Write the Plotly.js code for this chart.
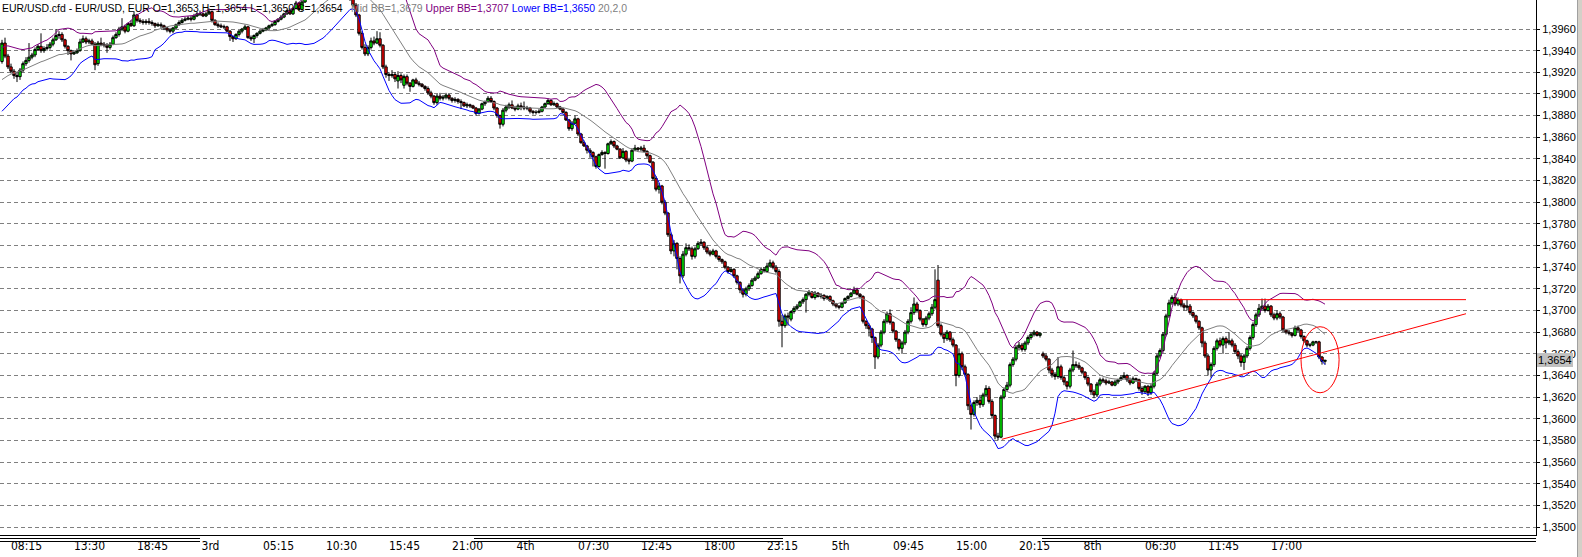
<!DOCTYPE html>
<html>
<head>
<meta charset="utf-8">
<script src="https://cdn.plot.ly/plotly-3.0.1.min.js"></script>
<style>html,body{margin:0;padding:0;background:#fff;overflow:hidden}</style>
</head>
<body>
<div id="chart" style="width:1582px;height:557px"></div>
<script>
// ---- 15-minute EUR/USD bars (bar 0 = 07:15 on the 2nd) ----
const open = [
1.3930,1.3947,1.3935,1.3925,1.3921,1.3917,1.3916,1.3922,1.3928,1.3931,
1.3934,1.3936,1.3941,1.3944,1.3940,1.3942,1.3943,1.3946,1.3950,1.3954,
1.3955,1.3950,1.3944,1.3940,1.3937,1.3938,1.3940,1.3948,1.3951,1.3948,
1.3949,1.3946,1.3928,1.3947,1.3946,1.3945,1.3943,1.3946,1.3952,1.3955,
1.3960,1.3962,1.3958,1.3965,1.3963,1.3973,1.3968,1.3967,1.3966,1.3967,
1.3966,1.3965,1.3963,1.3964,1.3963,1.3961,1.3959,1.3958,1.3961,1.3964,
1.3966,1.3968,1.3969,1.3970,1.3969,1.3972,1.3974,1.3974,1.3972,1.3974,
1.3976,1.3968,1.3964,1.3963,1.3962,1.3962,1.3958,1.3953,1.3951,1.3955,
1.3958,1.3960,1.3962,1.3952,1.3951,1.3954,1.3956,1.3958,1.3959,1.3961,
1.3963,1.3964,1.3967,1.3969,1.3971,1.3974,1.3977,1.3974,1.3979,1.3984,
1.3978,1.3985,1.3990,1.3998,1.4004,1.4006,1.4003,1.4007,1.4009,1.4006,
1.4008,1.4005,1.4007,1.4008,1.4003,1.4000,1.3996,1.3988,1.3982,1.3973,
1.3956,1.3943,1.3937,1.3943,1.3949,1.3947,1.3951,1.3945,1.3925,1.3918,
1.3917,1.3918,1.3912,1.3917,1.3908,1.3916,1.3910,1.3907,1.3913,1.3910,
1.3909,1.3907,1.3905,1.3901,1.3898,1.3892,1.3898,1.3896,1.3897,1.3899,
1.3896,1.3894,1.3895,1.3893,1.3892,1.3889,1.3890,1.3889,1.3887,1.3882,
1.3886,1.3891,1.3893,1.3896,1.3893,1.3887,1.3880,1.3872,1.3885,1.3888,
1.3890,1.3887,1.3886,1.3889,1.3888,1.3887,1.3887,1.3884,1.3883,1.3883,
1.3884,1.3888,1.3891,1.3894,1.3890,1.3891,1.3888,1.3886,1.3883,1.3876,
1.3868,1.3873,1.3877,1.3863,1.3855,1.3852,1.3848,1.3846,1.3842,1.3833,
1.3844,1.3846,1.3845,1.3854,1.3856,1.3852,1.3849,1.3841,1.3847,1.3839,
1.3838,1.3848,1.3850,1.3849,1.3850,1.3847,1.3843,1.3837,1.3822,1.3812,
1.3815,1.3800,1.3790,1.3770,1.3755,1.3762,1.3748,1.3732,1.3752,1.3758,
1.3757,1.3750,1.3757,1.3762,1.3763,1.3758,1.3754,1.3752,1.3755,1.3750,
1.3747,1.3745,1.3740,1.3736,1.3738,1.3732,1.3726,1.3719,1.3715,1.3720,
1.3723,1.3728,1.3730,1.3734,1.3738,1.3736,1.3741,1.3744,1.3740,1.3736,
1.3690,1.3686,1.3695,1.3692,1.3699,1.3702,1.3704,1.3708,1.3710,1.3715,
1.3717,1.3712,1.3716,1.3713,1.3714,1.3711,1.3713,1.3709,1.3706,1.3704,
1.3703,1.3707,1.3711,1.3713,1.3716,1.3719,1.3715,1.3713,1.3690,1.3686,
1.3683,1.3675,1.3657,1.3668,1.3680,1.3690,1.3697,1.3689,1.3681,1.3673,
1.3665,1.3670,1.3680,1.3690,1.3698,1.3706,1.3700,1.3692,1.3687,1.3693,
1.3697,1.3703,1.3728,1.3686,1.3678,1.3674,1.3680,1.3673,1.3668,1.3640,
1.3660,1.3648,1.3641,1.3612,1.3604,1.3615,1.3617,1.3613,1.3622,1.3628,
1.3616,1.3603,1.3584,1.3583,1.3620,1.3627,1.3631,1.3650,1.3655,1.3666,
1.3668,1.3664,1.3670,1.3675,1.3678,1.3680,1.3677,1.3660,1.3658,1.3655,
1.3645,1.3641,1.3639,1.3648,1.3638,1.3634,1.3630,1.3645,1.3650,1.3649,
1.3647,1.3643,1.3638,1.3632,1.3625,1.3622,1.3632,1.3636,1.3635,1.3633,
1.3634,1.3631,1.3634,1.3636,1.3638,1.3640,1.3636,1.3633,1.3637,1.3636,
1.3628,1.3625,1.3630,1.3624,1.3630,1.3642,1.3658,1.3663,1.3678,1.3695,
1.3707,1.3712,1.3706,1.3710,1.3705,1.3703,1.3704,1.3698,1.3695,1.3690,
1.3684,1.3670,1.3658,1.3645,1.3650,1.3665,1.3672,1.3668,1.3674,1.3670,
1.3672,1.3668,1.3662,1.3658,1.3652,1.3658,1.3665,1.3675,1.3687,1.3696,
1.3702,1.3704,1.3700,1.3704,1.3696,1.3693,1.3697,1.3694,1.3682,1.3680,
1.3679,1.3677,1.3684,1.3682,1.3676,1.3672,1.3668,1.3668,1.3671,1.3671,
1.3657,1.3653];
const high = [
1.3950,1.3952,1.3937,1.3928,1.3923,1.3920,1.3924,1.3930,1.3934,1.3947,
1.3938,1.3943,1.3946,1.3956,1.3944,1.3946,1.3948,1.3952,1.3960,1.3958,
1.3957,1.3951,1.3945,1.3941,1.3940,1.3942,1.3951,1.3954,1.3953,1.3951,
1.3951,1.3948,1.3949,1.3952,1.3948,1.3947,1.3948,1.3954,1.3957,1.3962,
1.3970,1.3964,1.3966,1.3968,1.3976,1.3974,1.3970,1.3969,1.3969,1.3970,
1.3968,1.3966,1.3966,1.3966,1.3964,1.3962,1.3961,1.3962,1.3965,1.3968,
1.3970,1.3971,1.3972,1.3972,1.3974,1.3976,1.3977,1.3975,1.3976,1.3979,
1.3977,1.3969,1.3966,1.3965,1.3964,1.3963,1.3959,1.3954,1.3956,1.3959,
1.3961,1.3964,1.3963,1.3954,1.3955,1.3957,1.3959,1.3961,1.3962,1.3964,
1.3966,1.3968,1.3970,1.3973,1.3975,1.3978,1.3979,1.3980,1.3986,1.3985,
1.3988,1.3992,1.4000,1.4007,1.4009,1.4010,1.4008,1.4012,1.4013,1.4010,
1.4011,1.4009,1.4011,1.4010,1.4006,1.4003,1.3998,1.3990,1.3984,1.3974,
1.3958,1.3946,1.3945,1.3952,1.3953,1.3958,1.3957,1.3946,1.3927,1.3920,
1.3922,1.3920,1.3921,1.3919,1.3918,1.3918,1.3911,1.3914,1.3915,1.3912,
1.3910,1.3908,1.3907,1.3903,1.3899,1.3900,1.3901,1.3899,1.3901,1.3900,
1.3897,1.3897,1.3896,1.3895,1.3893,1.3892,1.3891,1.3890,1.3888,1.3887,
1.3892,1.3894,1.3898,1.3898,1.3894,1.3888,1.3881,1.3887,1.3890,1.3892,
1.3894,1.3889,1.3891,1.3892,1.3893,1.3889,1.3888,1.3885,1.3885,1.3886,
1.3889,1.3892,1.3896,1.3895,1.3893,1.3892,1.3889,1.3887,1.3884,1.3877,
1.3875,1.3880,1.3878,1.3864,1.3857,1.3853,1.3850,1.3847,1.3843,1.3845,
1.3848,1.3847,1.3855,1.3858,1.3857,1.3853,1.3850,1.3850,1.3848,1.3841,
1.3850,1.3853,1.3851,1.3852,1.3853,1.3848,1.3844,1.3838,1.3824,1.3818,
1.3816,1.3802,1.3791,1.3772,1.3765,1.3763,1.3750,1.3755,1.3762,1.3761,
1.3759,1.3759,1.3764,1.3766,1.3764,1.3760,1.3756,1.3757,1.3756,1.3751,
1.3748,1.3746,1.3741,1.3740,1.3739,1.3733,1.3727,1.3720,1.3722,1.3725,
1.3730,1.3732,1.3736,1.3740,1.3740,1.3744,1.3747,1.3746,1.3742,1.3738,
1.3696,1.3697,1.3698,1.3700,1.3704,1.3706,1.3709,1.3712,1.3716,1.3719,
1.3718,1.3718,1.3717,1.3716,1.3715,1.3714,1.3714,1.3710,1.3707,1.3705,
1.3708,1.3712,1.3714,1.3717,1.3722,1.3721,1.3716,1.3714,1.3691,1.3688,
1.3684,1.3676,1.3670,1.3682,1.3692,1.3699,1.3701,1.3690,1.3682,1.3674,
1.3672,1.3682,1.3692,1.3703,1.3712,1.3708,1.3701,1.3693,1.3695,1.3699,
1.3706,1.3738,1.3742,1.3688,1.3680,1.3682,1.3681,1.3675,1.3669,1.3665,
1.3662,1.3650,1.3642,1.3614,1.3617,1.3620,1.3622,1.3624,1.3631,1.3630,
1.3618,1.3604,1.3587,1.3622,1.3629,1.3634,1.3652,1.3657,1.3668,1.3671,
1.3670,1.3672,1.3677,1.3680,1.3682,1.3681,1.3680,1.3662,1.3660,1.3656,
1.3647,1.3643,1.3657,1.3650,1.3640,1.3635,1.3647,1.3663,1.3653,1.3652,
1.3648,1.3644,1.3639,1.3633,1.3627,1.3634,1.3638,1.3638,1.3637,1.3636,
1.3635,1.3636,1.3637,1.3640,1.3643,1.3641,1.3638,1.3639,1.3638,1.3637,
1.3630,1.3631,1.3631,1.3632,1.3644,1.3660,1.3665,1.3680,1.3697,1.3710,
1.3714,1.3716,1.3712,1.3711,1.3707,1.3710,1.3706,1.3699,1.3696,1.3691,
1.3685,1.3672,1.3660,1.3652,1.3667,1.3674,1.3675,1.3676,1.3676,1.3680,
1.3674,1.3670,1.3664,1.3660,1.3660,1.3667,1.3677,1.3689,1.3698,1.3706,
1.3711,1.3711,1.3706,1.3705,1.3698,1.3700,1.3699,1.3695,1.3683,1.3682,
1.3680,1.3686,1.3686,1.3683,1.3677,1.3673,1.3670,1.3672,1.3672,1.3672,
1.3658,1.3654];
const low = [
1.3928,1.3933,1.3923,1.3919,1.3914,1.3911,1.3913,1.3920,1.3926,1.3929,
1.3932,1.3934,1.3940,1.3938,1.3938,1.3940,1.3941,1.3944,1.3949,1.3951,
1.3948,1.3942,1.3936,1.3931,1.3936,1.3937,1.3939,1.3947,1.3946,1.3946,
1.3945,1.3922,1.3926,1.3944,1.3943,1.3938,1.3941,1.3945,1.3951,1.3953,
1.3958,1.3956,1.3957,1.3962,1.3962,1.3966,1.3965,1.3964,1.3964,1.3964,
1.3963,1.3961,1.3962,1.3961,1.3959,1.3957,1.3956,1.3956,1.3960,1.3963,
1.3965,1.3967,1.3968,1.3967,1.3968,1.3971,1.3972,1.3971,1.3971,1.3973,
1.3966,1.3963,1.3961,1.3961,1.3960,1.3957,1.3949,1.3948,1.3950,1.3953,
1.3956,1.3959,1.3951,1.3949,1.3947,1.3952,1.3955,1.3957,1.3958,1.3960,
1.3962,1.3963,1.3966,1.3968,1.3970,1.3973,1.3973,1.3973,1.3978,1.3977,
1.3977,1.3984,1.3988,1.3996,1.4000,1.4002,1.4000,1.4005,1.4004,1.4003,
1.4003,1.4002,1.4004,1.4001,1.3998,1.3994,1.3986,1.3980,1.3971,1.3954,
1.3941,1.3935,1.3935,1.3941,1.3945,1.3946,1.3943,1.3923,1.3915,1.3912,
1.3915,1.3911,1.3905,1.3910,1.3905,1.3908,1.3902,1.3906,1.3909,1.3907,
1.3906,1.3903,1.3899,1.3896,1.3890,1.3890,1.3894,1.3894,1.3895,1.3894,
1.3892,1.3892,1.3891,1.3886,1.3888,1.3887,1.3887,1.3886,1.3880,1.3881,
1.3885,1.3889,1.3892,1.3892,1.3885,1.3878,1.3868,1.3870,1.3883,1.3886,
1.3886,1.3884,1.3885,1.3885,1.3885,1.3885,1.3882,1.3881,1.3881,1.3882,
1.3883,1.3887,1.3890,1.3889,1.3889,1.3887,1.3885,1.3882,1.3875,1.3866,
1.3866,1.3872,1.3861,1.3854,1.3851,1.3845,1.3841,1.3833,1.3831,1.3832,
1.3843,1.3831,1.3844,1.3853,1.3850,1.3848,1.3840,1.3840,1.3837,1.3835,
1.3837,1.3847,1.3847,1.3847,1.3846,1.3841,1.3836,1.3820,1.3810,1.3808,
1.3798,1.3788,1.3768,1.3752,1.3750,1.3738,1.3725,1.3730,1.3750,1.3755,
1.3747,1.3748,1.3756,1.3760,1.3756,1.3752,1.3750,1.3751,1.3748,1.3745,
1.3743,1.3738,1.3734,1.3735,1.3730,1.3724,1.3716,1.3712,1.3713,1.3718,
1.3722,1.3727,1.3729,1.3733,1.3735,1.3735,1.3740,1.3738,1.3734,1.3685,
1.3666,1.3684,1.3686,1.3690,1.3697,1.3700,1.3703,1.3706,1.3698,1.3713,
1.3711,1.3710,1.3712,1.3711,1.3709,1.3710,1.3708,1.3704,1.3702,1.3701,
1.3702,1.3706,1.3710,1.3712,1.3715,1.3714,1.3711,1.3688,1.3683,1.3676,
1.3670,1.3646,1.3655,1.3666,1.3678,1.3688,1.3687,1.3679,1.3671,1.3663,
1.3660,1.3668,1.3678,1.3688,1.3696,1.3698,1.3690,1.3685,1.3685,1.3691,
1.3695,1.3701,1.3684,1.3676,1.3670,1.3672,1.3671,1.3666,1.3630,1.3638,
1.3645,1.3639,1.3608,1.3590,1.3602,1.3612,1.3610,1.3611,1.3620,1.3614,
1.3600,1.3581,1.3580,1.3582,1.3618,1.3625,1.3629,1.3648,1.3653,1.3663,
1.3662,1.3662,1.3668,1.3673,1.3676,1.3676,1.3675,1.3656,1.3653,1.3642,
1.3638,1.3636,1.3637,1.3636,1.3631,1.3627,1.3628,1.3643,1.3647,1.3645,
1.3641,1.3636,1.3630,1.3622,1.3619,1.3620,1.3630,1.3633,1.3631,1.3632,
1.3630,1.3630,1.3632,1.3635,1.3637,1.3634,1.3631,1.3632,1.3634,1.3626,
1.3622,1.3623,1.3621,1.3622,1.3628,1.3640,1.3656,1.3661,1.3676,1.3693,
1.3705,1.3704,1.3704,1.3703,1.3700,1.3700,1.3696,1.3693,1.3688,1.3682,
1.3666,1.3656,1.3640,1.3638,1.3648,1.3663,1.3666,1.3660,1.3665,1.3668,
1.3666,1.3660,1.3655,1.3648,1.3645,1.3656,1.3663,1.3673,1.3685,1.3694,
1.3700,1.3698,1.3699,1.3694,1.3691,1.3691,1.3692,1.3680,1.3678,1.3677,
1.3675,1.3676,1.3680,1.3674,1.3670,1.3666,1.3666,1.3667,1.3669,1.3655,
1.3650,1.3650];
const close = [
1.3947,1.3935,1.3925,1.3921,1.3917,1.3916,1.3922,1.3928,1.3931,1.3934,
1.3936,1.3941,1.3944,1.3940,1.3942,1.3943,1.3946,1.3950,1.3954,1.3955,
1.3950,1.3944,1.3940,1.3937,1.3938,1.3940,1.3948,1.3951,1.3948,1.3949,
1.3946,1.3927,1.3947,1.3946,1.3945,1.3943,1.3946,1.3952,1.3955,1.3960,
1.3962,1.3958,1.3965,1.3963,1.3973,1.3968,1.3967,1.3966,1.3967,1.3966,
1.3965,1.3963,1.3964,1.3963,1.3961,1.3959,1.3958,1.3961,1.3964,1.3966,
1.3968,1.3969,1.3970,1.3969,1.3972,1.3974,1.3974,1.3972,1.3974,1.3976,
1.3968,1.3964,1.3963,1.3962,1.3962,1.3958,1.3953,1.3951,1.3955,1.3958,
1.3960,1.3962,1.3952,1.3951,1.3954,1.3956,1.3958,1.3959,1.3961,1.3963,
1.3964,1.3967,1.3969,1.3971,1.3974,1.3977,1.3974,1.3979,1.3984,1.3978,
1.3985,1.3990,1.3998,1.4004,1.4006,1.4003,1.4007,1.4009,1.4006,1.4008,
1.4005,1.4007,1.4008,1.4003,1.4000,1.3996,1.3988,1.3982,1.3973,1.3956,
1.3943,1.3937,1.3943,1.3949,1.3947,1.3951,1.3945,1.3925,1.3918,1.3917,
1.3918,1.3914,1.3917,1.3913,1.3916,1.3910,1.3907,1.3913,1.3910,1.3909,
1.3907,1.3905,1.3901,1.3898,1.3892,1.3898,1.3896,1.3897,1.3899,1.3896,
1.3894,1.3895,1.3893,1.3892,1.3889,1.3890,1.3889,1.3887,1.3882,1.3886,
1.3891,1.3893,1.3896,1.3893,1.3887,1.3880,1.3872,1.3885,1.3888,1.3890,
1.3887,1.3886,1.3889,1.3888,1.3887,1.3887,1.3884,1.3883,1.3883,1.3884,
1.3888,1.3891,1.3894,1.3890,1.3891,1.3888,1.3886,1.3883,1.3876,1.3868,
1.3873,1.3877,1.3863,1.3855,1.3852,1.3848,1.3846,1.3842,1.3833,1.3844,
1.3846,1.3845,1.3854,1.3856,1.3852,1.3849,1.3841,1.3847,1.3839,1.3838,
1.3848,1.3850,1.3849,1.3850,1.3847,1.3843,1.3837,1.3822,1.3812,1.3815,
1.3800,1.3790,1.3770,1.3755,1.3762,1.3748,1.3732,1.3752,1.3758,1.3757,
1.3750,1.3757,1.3762,1.3763,1.3758,1.3754,1.3752,1.3755,1.3750,1.3747,
1.3745,1.3740,1.3736,1.3738,1.3732,1.3726,1.3719,1.3715,1.3720,1.3723,
1.3728,1.3730,1.3734,1.3738,1.3736,1.3741,1.3744,1.3740,1.3736,1.3690,
1.3686,1.3695,1.3694,1.3699,1.3702,1.3704,1.3708,1.3710,1.3715,1.3717,
1.3712,1.3716,1.3713,1.3714,1.3711,1.3713,1.3709,1.3706,1.3704,1.3703,
1.3707,1.3711,1.3713,1.3716,1.3719,1.3715,1.3713,1.3690,1.3686,1.3683,
1.3675,1.3657,1.3668,1.3680,1.3690,1.3697,1.3689,1.3681,1.3673,1.3665,
1.3670,1.3680,1.3690,1.3698,1.3706,1.3700,1.3692,1.3687,1.3693,1.3697,
1.3703,1.3710,1.3686,1.3678,1.3674,1.3680,1.3673,1.3668,1.3640,1.3660,
1.3648,1.3641,1.3612,1.3604,1.3615,1.3617,1.3613,1.3622,1.3628,1.3616,
1.3603,1.3584,1.3583,1.3620,1.3627,1.3631,1.3650,1.3655,1.3666,1.3668,
1.3664,1.3670,1.3675,1.3678,1.3680,1.3677,1.3679,1.3658,1.3655,1.3645,
1.3641,1.3639,1.3648,1.3638,1.3634,1.3630,1.3645,1.3650,1.3649,1.3647,
1.3643,1.3638,1.3632,1.3625,1.3622,1.3632,1.3636,1.3635,1.3633,1.3634,
1.3631,1.3634,1.3636,1.3638,1.3640,1.3636,1.3633,1.3637,1.3636,1.3628,
1.3625,1.3630,1.3624,1.3630,1.3642,1.3658,1.3663,1.3678,1.3695,1.3707,
1.3712,1.3706,1.3710,1.3705,1.3703,1.3704,1.3698,1.3695,1.3690,1.3684,
1.3670,1.3658,1.3645,1.3650,1.3665,1.3672,1.3668,1.3674,1.3670,1.3672,
1.3668,1.3662,1.3658,1.3652,1.3658,1.3665,1.3675,1.3687,1.3696,1.3702,
1.3704,1.3700,1.3704,1.3696,1.3693,1.3697,1.3694,1.3682,1.3680,1.3679,
1.3677,1.3684,1.3682,1.3676,1.3672,1.3668,1.3668,1.3671,1.3671,1.3657,
1.3653,1.3654];
// closes of the 19 bars before the visible window (needed by the 20-bar bands)
const historyClose = [1.3890,1.3896,1.3893,1.3899,1.3904,1.3898,1.3903,1.3909,1.3907,1.3913,
                      1.3918,1.3911,1.3920,1.3924,1.3918,1.3925,1.3931,1.3927,1.3932];

// time-axis labels and the bar each one starts on
const tickLabels = ['08:15','13:30','18:45','3rd','05:15','10:30','15:45','21:00','4th','07:30',
                    '12:45','18:00','23:15','5th','09:45','15:00','20:15','8th','06:30','11:45','17:00'];
const tickBars = [4,25,46,67,88,109,130,151,172,193,214,235,256,277,298,319,340,361,382,403,424];
const priceTicks = [];
for (let p = 13500; p <= 13960; p += 20) priceTicks.push(p / 10000);

// header texts
const symbolText = 'EUR/USD.cfd - EUR/USD, EUR';
const bbHeader = {mid: '1,3679', upper: '1,3707', lower: '1,3650', params: '20,2,0'};

// hand-drawn studies (bar index, price)
const supportLineBars = [333.3, 488];
const supportLinePrices = [1.3581, 1.3697];
const resistanceLineBars = [392, 488];
const resistanceLinePrice = 1.3710;
const markerBars = [433, 445.7];
const markerPrices = [1.3624, 1.3685];

// day shading bars under the axis (pixel spans)
const dayBarSpans = [[0, 200], [474, 783], [1042, 1536]];

// ---------- build ----------
const bars = close.map((_, i) => i);
function bollinger(series, n, k) {
  const mid = [], up = [], lo = [];
  for (let i = 0; i < series.length; i++) {
    if (i < n - 1) { mid.push(null); up.push(null); lo.push(null); continue; }
    let s = 0;
    for (let j = i - n + 1; j <= i; j++) s += series[j];
    const m = s / n;
    let v = 0;
    for (let j = i - n + 1; j <= i; j++) v += (series[j] - m) * (series[j] - m);
    const sd = Math.sqrt(v / n);
    mid.push(m); up.push(m + k * sd); lo.push(m - k * sd);
  }
  return {mid, up, lo};
}
const bbAll = bollinger(historyClose.concat(close), 20, 2);
const off = historyClose.length;
const bbMid = bbAll.mid.slice(off), bbUp = bbAll.up.slice(off), bbLo = bbAll.lo.slice(off);

const PW = 1536, PH = 535;           // plot area in px
const fmt = v => v.toFixed(4).replace('.', ',');
const last = close.length - 1;

const traces = [
  {type: 'candlestick', x: bars, open: open, high: high, low: low, close: close,
   increasing: {line: {color: '#000000', width: 1}, fillcolor: '#00ff00'},
   decreasing: {line: {color: '#000000', width: 1}, fillcolor: '#ff0000'},
   whiskerwidth: 0, hoverinfo: 'skip', showlegend: false},
  {type: 'scatter', mode: 'lines', x: bars, y: bbMid, line: {color: '#808080', width: 1}, hoverinfo: 'skip', showlegend: false},
  {type: 'scatter', mode: 'lines', x: bars, y: bbUp, line: {color: '#800080', width: 1}, hoverinfo: 'skip', showlegend: false},
  {type: 'scatter', mode: 'lines', x: bars, y: bbLo, line: {color: '#0000ff', width: 1}, hoverinfo: 'skip', showlegend: false}
];

const shapes = [
  {type: 'line', xref: 'x', yref: 'y', x0: supportLineBars[0], x1: supportLineBars[1],
   y0: supportLinePrices[0], y1: supportLinePrices[1], line: {color: '#ff0000', width: 1}},
  {type: 'line', xref: 'x', yref: 'y', x0: resistanceLineBars[0], x1: resistanceLineBars[1],
   y0: resistanceLinePrice, y1: resistanceLinePrice, line: {color: '#ff0000', width: 1}},
  {type: 'circle', xref: 'x', yref: 'y', x0: markerBars[0], x1: markerBars[1],
   y0: markerPrices[0], y1: markerPrices[1], line: {color: '#ff0000', width: 1}},
  {type: 'rect', xref: 'paper', yref: 'paper', x0: 1577 / PW, x1: 1582 / PW, y0: -22 / PH, y1: 1,
   fillcolor: '#d4d0c8', line: {width: 0}},
  {type: 'line', xref: 'paper', yref: 'paper', x0: 1577.5 / PW, x1: 1577.5 / PW, y0: -22 / PH, y1: 1,
   line: {color: '#a0a0a0', width: 1}}
];
dayBarSpans.forEach(s => {
  [-3.5, -6.5].forEach(dy => shapes.push({type: 'line', xref: 'paper', yref: 'paper',
    x0: s[0] / PW, x1: s[1] / PW, y0: dy / PH, y1: dy / PH, line: {color: '#000000', width: 1}}));
});

const hdrFont = {family: 'Liberation Sans, Arial, sans-serif', size: 10.45, color: '#000000'};
const annotations = [
  {xref: 'paper', yref: 'paper', x: 2 / PW, y: 1 - 9 / PH, xanchor: 'left', yanchor: 'middle',
   showarrow: false, borderpad: 0, borderwidth: 0, font: hdrFont,
   text: symbolText + ' O=' + fmt(open[last]) + ' H=' + fmt(high[last]) + ' L=' + fmt(low[last]) + ' C=' + fmt(close[last])},
  {xref: 'paper', yref: 'paper', x: 351 / PW, y: 1 - 9 / PH, xanchor: 'left', yanchor: 'middle',
   showarrow: false, borderpad: 0, borderwidth: 0, font: hdrFont,
   text: '<span style="color:#808080">Mid BB=' + bbHeader.mid + '</span> ' +
         '<span style="color:#800080">Upper BB=' + bbHeader.upper + '</span> ' +
         '<span style="color:#0000ff">Lower BB=' + bbHeader.lower + '</span> ' +
         '<span style="color:#808080">' + bbHeader.params + '</span>'},
  {xref: 'paper', yref: 'y', x: 1, y: close[last], xanchor: 'left', yanchor: 'middle', xshift: 1,
   showarrow: false, bgcolor: '#c0c0c0', borderpad: 1, borderwidth: 0,
   font: {family: 'Liberation Sans, Arial, sans-serif', size: 11, color: '#000000'}, text: fmt(close[last])}
];

const tickPos = tickBars.map((b, k) => b + (tickLabels[k].length * 5) / 6);

const layout = {
  width: 1582, height: 557,
  margin: {l: 0, r: 46, t: 0, b: 22, pad: 0},
  paper_bgcolor: '#ffffff', plot_bgcolor: '#ffffff',
  separators: ',.',
  showlegend: false,
  boxgap: 0.2, boxgroupgap: 0,
  xaxis: {type: 'linear', range: [-2 / 3, (PW - 2) / 3], rangeslider: {visible: false},
          showgrid: false, zeroline: false, showline: true, linecolor: '#000000', linewidth: 1,
          tickmode: 'array', tickvals: tickPos, ticktext: tickLabels, ticks: '',
          tickfont: {family: 'Liberation Sans Narrow, DejaVu Sans Condensed, Arial Narrow, sans-serif', size: 12, color: '#000000'},
          fixedrange: true, automargin: false},
  yaxis: {side: 'right', range: [1.3960 - 506 / 10826, 1.3960 + 29 / 10826],
          tickmode: 'array', tickvals: priceTicks, tickformat: '.4f',
          showgrid: true, gridcolor: '#808080', gridwidth: 1, griddash: '4px,3px',
          zeroline: false, showline: true, linecolor: '#000000', linewidth: 1,
          ticks: 'outside', ticklen: 3, tickcolor: '#000000',
          tickfont: {family: 'Liberation Sans, Arial, sans-serif', size: 11, color: '#000000'},
          fixedrange: true, automargin: false},
  shapes: shapes,
  annotations: annotations
};

Plotly.newPlot('chart', traces, layout, {staticPlot: true, displayModeBar: false});
</script>
</body>
</html>
